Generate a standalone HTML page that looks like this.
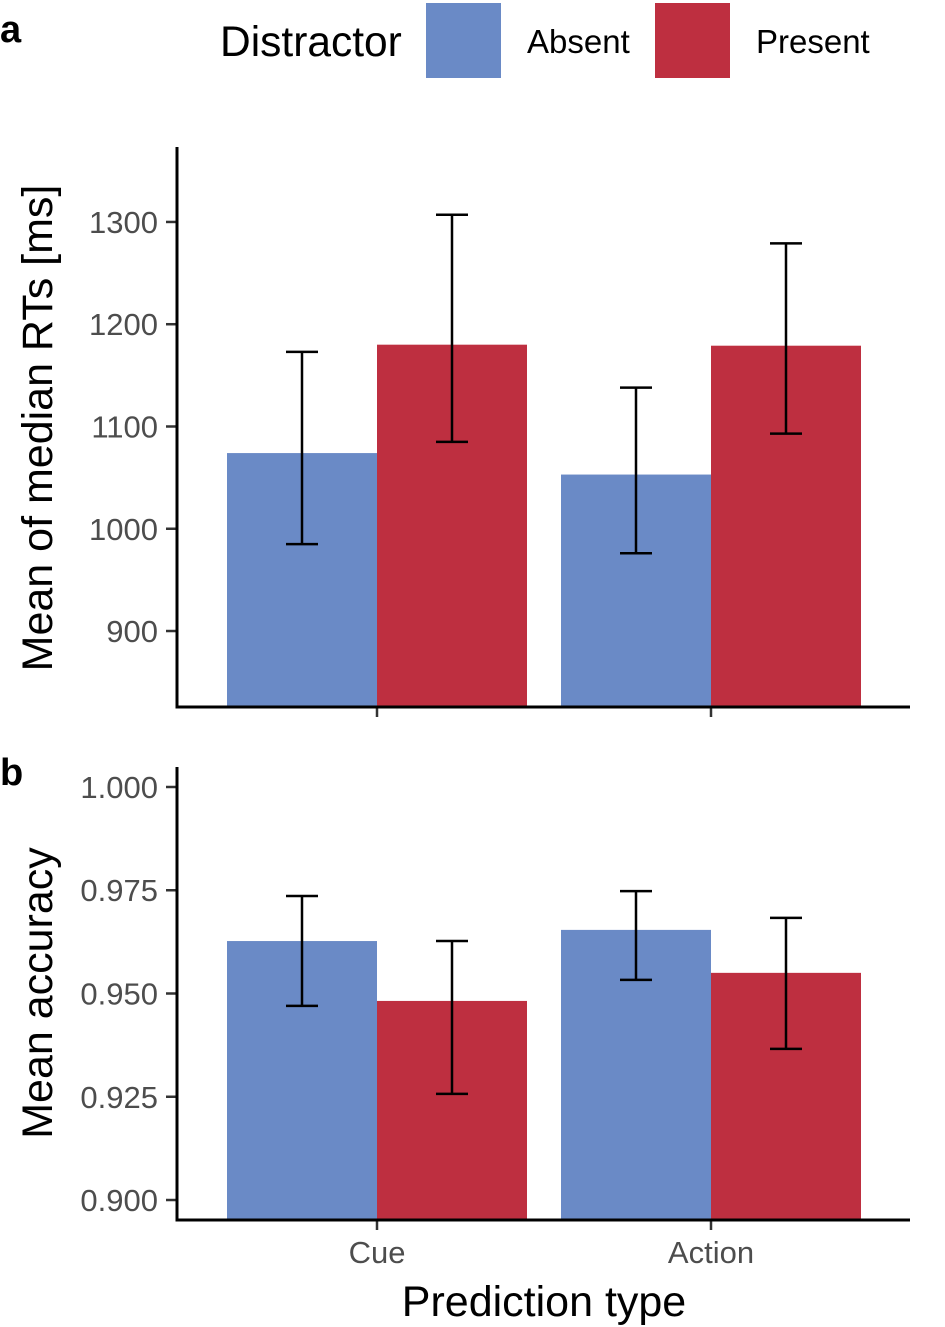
<!DOCTYPE html>
<html><head><meta charset="utf-8"><style>
html,body{margin:0;padding:0;background:#fff;}
svg{display:block;font-family:"Liberation Sans",Arial,sans-serif;}
</style></head><body>
<svg id="c" width="945" height="1327" viewBox="0 0 945 1327">
<text x="0" y="42" font-size="38" font-weight="bold">a</text>
<text x="0" y="785" font-size="38" font-weight="bold">b</text>
<g>
<text x="220" y="56" font-size="42.5" fill="#000">Distractor</text>
<rect x="426" y="3" width="75" height="75" fill="#6A8AC6"/>
<text x="527" y="53" font-size="33">Absent</text>
<rect x="655" y="3" width="75" height="75" fill="#BE2F40"/>
<text x="756" y="53" font-size="33">Present</text>
</g>
<text transform="translate(52,428) rotate(-90)" text-anchor="middle" font-size="43">Mean of median RTs [ms]</text>
<text transform="translate(52,993) rotate(-90)" text-anchor="middle" font-size="43">Mean accuracy</text>
<text x="544" y="1316" text-anchor="middle" font-size="43">Prediction type</text>
<g id="plots"></g>
</svg>
<script>
const categories = ["Cue", "Action"];
const groups = ["Absent", "Present"];
const rtMeans = [[1074, 1180], [1053, 1179]];
const rtLow = [[985, 1085], [976, 1093]];
const rtHigh = [[1173, 1307], [1138, 1279]];
const rtTicks = [900, 1000, 1100, 1200, 1300];
const rtTickLabels = ["900", "1000", "1100", "1200", "1300"];
const accMeans = [[0.9627, 0.9482], [0.9654, 0.955]];
const accLow = [[0.947, 0.9257], [0.9533, 0.9366]];
const accHigh = [[0.9736, 0.9627], [0.9748, 0.9683]];
const accTicks = [0.900, 0.925, 0.950, 0.975, 1.000];
const accTickLabels = ["0.900", "0.925", "0.950", "0.975", "1.000"];

const NS = "http://www.w3.org/2000/svg";
const root = document.getElementById("plots");
const colors = ["#6A8AC6", "#BE2F40"];
function mk(tag, attrs, parent) {
  const e = document.createElementNS(NS, tag);
  for (const k in attrs) e.setAttribute(k, attrs[k]);
  parent.appendChild(e);
  return e;
}
function panel(name, top, bottom, ymin, ymax, means, lo, hi, ticks, tickLabels, showX) {
  const g = mk("g", {}, root);
  
  
  const y = v => bottom - (v - ymin) / (ymax - ymin) * (bottom - top);
  const x0 = 177, gap = 50;
  categories.forEach((c, i) => {
    groups.forEach((gname, j) => {
      const bx = x0 + gap + i * 334 + j * 150;
      const r = mk("rect", {x: bx, y: y(means[i][j]), width: 150, height: bottom - y(means[i][j]), fill: colors[j]}, g);
      
      
      const cx = bx + 75;
      const eb = mk("path", {d: `M${cx-16},${y(hi[i][j])}H${cx+16}M${cx},${y(hi[i][j])}V${y(lo[i][j])}M${cx-16},${y(lo[i][j])}H${cx+16}`, stroke: "#000", "stroke-width": 2.5, fill: "none"}, g);
      
      
    });
    const tx = x0 + gap + i * 334 + 150;
    const tk = mk("line", {x1: tx, x2: tx, y1: bottom, y2: bottom + 10, stroke: "#333", "stroke-width": 2.5}, g);
    
    
    if (showX) {
      const t = mk("text", {x: tx, y: bottom + 43, "text-anchor": "middle", "font-size": 31, fill: "#4d4d4d"}, g);
      t.textContent = c;
      
      
    }
  });
  ticks.forEach((v, k) => {
    const tl = mk("line", {x1: 166, x2: 177, y1: y(v), y2: y(v), stroke: "#333", "stroke-width": 2.5}, g);
    
    
    const t = mk("text", {x: 158, y: y(v) + 11, "text-anchor": "end", "font-size": 31, fill: "#4d4d4d"}, g);
    t.textContent = tickLabels[k];
    
    
  });
  const ax = mk("path", {d: `M177,${top}V${bottom}H910`, stroke: "#000", "stroke-width": 3, fill: "none"}, g);
  
  
}
panel("panel-a-rt", 147, 707, 825.7, 1373.3, rtMeans, rtLow, rtHigh, rtTicks, rtTickLabels, false);
panel("panel-b-accuracy", 767, 1220, 0.89516, 1.00484, accMeans, accLow, accHigh, accTicks, accTickLabels, true);
</script>
</body></html>
